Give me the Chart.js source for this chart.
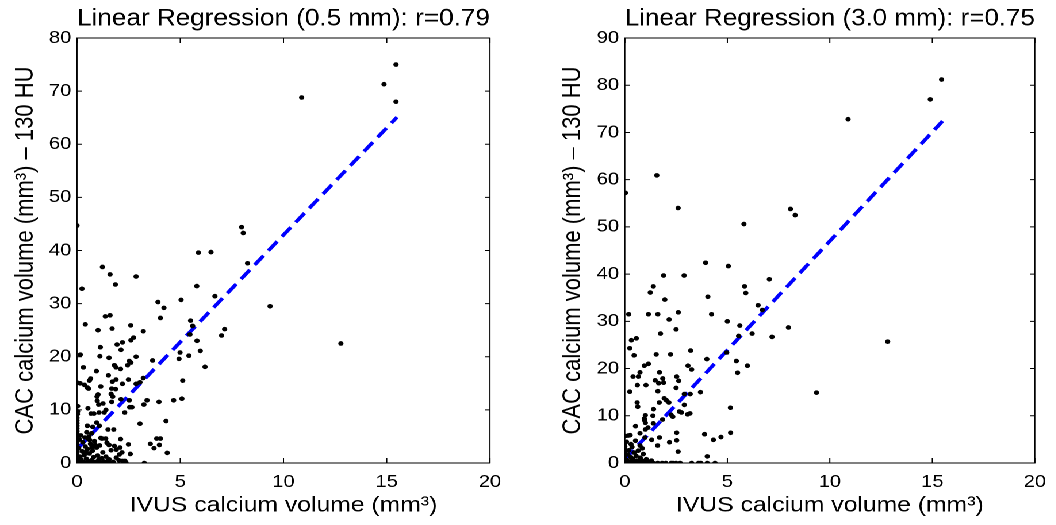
<!DOCTYPE html>
<html>
<head>
<meta charset="utf-8">
<script src="https://cdn.jsdelivr.net/npm/chart.js@4.4.0/dist/chart.umd.min.js"></script>
<style>
  html, body { margin: 0; padding: 0; background: #fff; overflow: hidden; }
  #wrap { position: absolute; left: 0; top: 0; height: 525px; transform-origin: 0 0; }
  .pane { position: absolute; top: 0; height: 525px; }
</style>
</head>
<body>
<div id="wrap">
  <div class="pane" id="paneL"><canvas id="left"></canvas></div>
  <div class="pane" id="paneR"><canvas id="right"></canvas></div>
</div>
<script>
// 0.5 mm reconstruction: IVUS volume (x) vs CAC volume (y)
const ivus05 = [0, 15.45, 14.87, 15.45, 10.88, 7.97, 8.05, 8.26, 5.88, 6.49, 12.78, 9.35, 1.23, 1.6, 2.86, 1.86, 0.24, 5.8, 6.68, 5.04,
  3.92, 4.21, 4.04, 1.37, 1.6, 5.5, 0.4, 2.6, 5.6, 1.02, 1.7, 3.21, 7.15, 7.0, 5.47, 2.74, 2.61, 5.81, 2.2, 1.94,
  1.13, 2.13, 5.97, 0.16, 1.11, 1.55, 2.86, 4.99, 4.94, 5.42, 3.66, 2.53, 2.61, 2.45, 1.81, 1.89, 2.11, 0.31, 6.2, 0.94,
  1.89, 1.52, 0.6, 0.66, 1.71, 3.21, 5.12, 0.02, 0.15, 0.36, 0.5, 0.56, 1.15, 1.68, 1.87, 2.49, 2.2, 2.86, 3.05, 1.02,
  0.97, 1.65, 1.73, 0.98, 1.05, 1.26, 2.13, 1.68, 2.53, 3.39, 3.24, 3.97, 4.68, 5.08, 2.31, 2.55, 2.66, 1.4, 1.32, 0.53,
  0.03, 0.68, 0.82, 1.07, 0.03, 3.05, 4.31, 0.95, 0.5, 0.76, 1.08, 1.5, 1.78, 0.71, 0.47, 0.53, 1.21, 1.39, 2.11, 3.86,
  4.04, 3.55, 3.73, 3.99, 4.37, 2.49, 1.55, 1.81, 2.08, 1.9, 2.18, 2.58, 2.03, 2.32, 2.37, 3.26, 1.52,
  0, 0, 0, 0, 0, 0, 0, 0, 0, 0, 0, 0, 0, 0, 0, 0, 0, 0, 0.02,
  0.1, 0.15, 0.2, 0.25, 0.3, 0.35, 0.4, 0.45, 0.5, 0.55, 0.6, 0.65, 0.7, 0.75, 0.8, 0.85, 0.9, 0.95, 1.0, 1.05,
  1.1, 1.2, 1.25, 1.3, 1.4, 1.45, 1.55, 1.65, 1.75, 1.9, 2.05, 2.2, 0.05, 0.12, 0.2, 0.35, 0.5, 0.65, 0.8, 0.95,
  1.1, 1.25, 1.5, 1.7, 0.08, 0.12, 0.18, 0.28, 0.38, 0.42, 0.58, 0.62, 0.72, 0.88, 1.15];
const cac05 = [44.7, 75.0, 71.3, 68.0, 68.8, 44.4, 43.3, 37.6, 39.6, 39.7, 22.5, 29.5, 36.9, 35.5, 35.1, 33.6, 32.8, 33.3, 31.4, 30.7,
  30.3, 29.2, 27.3, 27.6, 27.8, 26.8, 26.1, 25.9, 25.8, 25.0, 25.3, 24.8, 25.2, 24.0, 24.2, 23.6, 23.1, 23.0, 22.7, 22.3,
  21.8, 21.3, 21.1, 20.4, 20.1, 19.8, 20.0, 20.8, 19.6, 20.2, 19.3, 19.2, 18.9, 18.4, 18.4, 18.0, 17.7, 18.0, 18.1, 17.3,
  15.7, 16.5, 15.5, 15.9, 15.3, 16.0, 15.5, 15.1, 15.0, 14.7, 14.2, 14.0, 14.4, 14.0, 13.9, 15.7, 14.9, 14.9, 15.2, 12.9,
  12.5, 13.0, 12.5, 11.7, 11.0, 11.2, 12.0, 11.5, 11.8, 11.8, 11.0, 11.5, 11.8, 12.1, 9.5, 10.5, 10.5, 10.0, 9.5, 10.3,
  10.7, 9.3, 9.3, 9.5, 9.7, 7.4, 7.9, 7.6, 7.0, 6.8, 7.0, 6.3, 6.3, 5.6, 5.8, 4.6, 4.6, 4.6, 4.5, 4.6,
  4.6, 3.6, 2.8, 3.4, 1.9, 3.5, 3.4, 3.2, 2.9, 2.5, 2.0, 1.7, 0.5, 0.4, 0.1, 0, 0.4,
  0, 0.5, 1, 1.5, 2, 2.5, 3, 3.5, 4, 4.5, 5, 5.5, 6, 6.5, 7, 7.5, 8, 8.5, 9.2,
  0.3, 1.2, 0.6, 2.2, 0.2, 1.5, 3.1, 0.8, 2.6, 0.3, 1.8, 3.6, 0.5, 2.3, 1.1, 4.1, 0.2, 2.9, 1.4, 0.6,
  3.3, 0.9, 2.0, 0.3, 1.2, 3.8, 0.7, 2.4, 0.2, 1.0, 1.6, 0.4, 0.1, 0.05, 0, 0, 0, 0, 0.05, 0,
  0, 0.1, 0, 0, 2.8, 4.4, 5.2, 3.9, 4.8, 2.0, 5.0, 4.3, 3.0, 3.4, 4.7];

// 3.0 mm reconstruction
const ivus30 = [0.03, 15.45, 14.9, 10.89, 1.56, 2.6, 8.08, 8.31, 5.81, 3.94, 5.05, 1.89, 2.89, 7.05, 1.39, 5.84, 1.24, 5.9, 4.05, 1.95,
  6.5, 6.71, 0.19, 1.15, 1.61, 2.61, 4.23, 2.16, 5.0, 2.5, 7.98, 5.61, 1.74, 6.21, 5.55, 7.18, 12.82, 0.56, 0.32, 0.24,
  3.21, 1.53, 2.23, 0.45, 4.97, 4.0, 5.44, 1.15, 0.95, 3.08, 5.98, 3.26, 5.5, 0.74, 1.69, 0.4, 0.66, 2.53, 1.85, 1.48,
  2.63, 1.89, 1.65, 0.61, 1.03, 2.5, 1.61, 0.24, 3.69, 3.19, 2.9, 9.35, 1.92, 2.02, 0.6, 1.68, 2.15, 2.9, 0.63, 5.15,
  1.4, 2.66, 2.76, 3.18, 3.06, 2.26, 2.34, 1.0, 1.37, 0.95, 1.84, 0.97, 1.0, 1.39, 0.52, 1.13, 1.0, 0.74, 2.53, 3.89,
  5.16, 4.69, 0.16, 0.26, 0, 1.69, 0.98, 1.31, 2.18, 2.53, 4.32, 0.52, 1.6, 0.74, 0.85, 2.6, 4.02,
  1.39, 1.82, 2.26, 2.35, 3.26, 3.6, 3.71, 4.02, 4.4,
  0, 0, 0, 0, 0, 0, 0, 0, 0, 0.1, 0.2, 0.3, 0.4, 0.5, 0.6, 0.7, 0.8, 0.9, 1.0, 1.1,
  1.2, 1.6, 2.0, 2.5, 2.7, 0.1, 0.15, 0.2, 0.25, 0.3, 0.35, 0.4, 0.45, 0.5, 0.55, 0.6, 0.65, 0.7, 0.75, 0.8,
  0.9, 0.95, 1.05, 1.15, 1.3, 0.08, 0.3];
const cac30 = [57.2, 81.2, 77.0, 72.8, 60.9, 54.0, 53.8, 52.5, 50.6, 42.4, 41.7, 39.7, 39.7, 38.9, 37.4, 37.4, 36.1, 36.0, 35.2, 34.6,
  33.4, 32.4, 31.5, 31.5, 31.5, 31.9, 31.5, 30.4, 30.0, 28.3, 28.7, 29.1, 27.4, 27.4, 26.9, 26.7, 25.7, 26.4, 26.0, 24.3,
  23.8, 23.0, 23.0, 22.8, 23.4, 22.0, 21.6, 21.0, 20.6, 20.6, 20.6, 19.8, 19.1, 19.2, 19.2, 18.3, 18.3, 18.3, 17.9, 17.5,
  17.4, 17.0, 16.9, 16.5, 16.5, 15.9, 15.2, 15.1, 15.0, 14.6, 14.6, 14.9, 13.7, 13.3, 12.8, 12.8, 12.8, 12.3, 11.9, 11.7,
  11.4, 10.9, 10.7, 10.5, 10.3, 10.2, 9.8, 10.1, 10.0, 9.4, 9.2, 9.0, 8.5, 8.4, 7.8, 7.5, 7.1, 6.3, 6.4, 6.1,
  6.4, 5.5, 5.8, 5.9, 5.7, 5.4, 5.4, 4.9, 4.4, 4.8, 4.9, 4.7, 3.7, 3.7, 3.1, 2.4, 1.4,
  0, 0, 0, 0, 0, 0, 0, 0, 0,
  0, 0.5, 1, 1.5, 2, 2.5, 3, 3.5, 4.2, 0, 0, 0, 0, 0, 0, 0, 0, 0, 0, 0,
  0, 0, 0, 0, 0, 0.6, 1.8, 2.7, 0.3, 1.2, 3.4, 0.8, 2.2, 0.2, 1.5, 0.5, 2.6, 0.3, 1.1, 0.6,
  1.9, 0.4, 0.8, 0.3, 0.5, 4.5, 4.0];

// regression line end points
const fitX = [0, 15.5];
const fit05 = [2.6, 65.1];
const fit30 = [0.8, 72.4];

const xTicks = [0, 5, 10, 15, 20];

const FONT = '"Liberation Sans", Arial, Helvetica, sans-serif';

// the original figure is a little wider than tall, so the whole page is stretched sideways
const S = 1.15;
const W = 1056 / S;
const PANE = W / 2;
document.getElementById('wrap').style.width = W + 'px';
document.getElementById('wrap').style.transform = 'scaleX(' + S + ')';
['paneL', 'paneR'].forEach((id, i) => {
  const el = document.getElementById(id);
  el.style.width = PANE + 'px';
  el.style.left = (i * PANE) + 'px';
});

// MATLAB style box with inward tick marks on all four sides
const boxPlugin = {
  id: 'matlabBox',
  afterDatasetsDraw(chart) {
    const { ctx, chartArea: a, scales } = chart;
    ctx.save();
    ctx.strokeStyle = '#000';
    ctx.lineWidth = 1;
    ctx.strokeRect(a.left, a.top, a.right - a.left, a.bottom - a.top);
    ctx.beginPath();
    scales.x.ticks.forEach(t => {
      const px = scales.x.getPixelForValue(t.value);
      ctx.moveTo(px, a.bottom); ctx.lineTo(px, a.bottom - 5);
      ctx.moveTo(px, a.top); ctx.lineTo(px, a.top + 5);
    });
    scales.y.ticks.forEach(t => {
      const py = scales.y.getPixelForValue(t.value);
      ctx.moveTo(a.left, py); ctx.lineTo(a.left + 4.3, py);
      ctx.moveTo(a.right, py); ctx.lineTo(a.right - 4.3, py);
    });
    ctx.stroke();
    ctx.restore();
  }
};

function makeChart(id, title, xs, ys, fitY, yMax, plotLeft, plotRight, yTitleCenter) {
  const points = xs.map((x, i) => ({ x: x, y: ys[i] }));
  const line = fitX.map((x, i) => ({ x: x, y: fitY[i] }));
  return new Chart(document.getElementById(id), {
    type: 'scatter',
    data: {
      datasets: [
        {
          data: points,
          backgroundColor: '#000',
          borderColor: '#000',
          pointRadius: 2.3,
          pointBorderWidth: 0
        },
        {
          type: 'line',
          data: line,
          borderColor: '#0000ff',
          borderWidth: 3.4,
          borderDash: [12, 6.5],
          pointRadius: 0,
          fill: false
        }
      ]
    },
    options: {
      responsive: true,
      maintainAspectRatio: false,
      animation: false,
      devicePixelRatio: 2,
      layout: { padding: { left: 0, right: PANE - plotRight, top: 0, bottom: 0 } },
      plugins: {
        legend: { display: false },
        tooltip: { enabled: false },
        title: {
          display: true,
          text: title,
          fullSize: false,
          color: '#000',
          font: { family: FONT, size: 24, weight: 'normal' },
          padding: { top: 4.3, bottom: 4.9 }
        }
      },
      scales: {
        x: {
          type: 'linear',
          min: 0,
          max: 20,
          afterBuildTicks: s => { s.ticks = xTicks.map(v => ({ value: v })); },
          afterFit: s => { s.height = 62; },
          grid: { display: false, drawTicks: false },
          border: { display: false },
          ticks: { color: '#000', padding: 8.5, font: { family: FONT, size: 17.5 } },
          title: {
            display: true,
            text: 'IVUS calcium volume (mm³)',
            color: '#000',
            font: { family: FONT, size: 21.5 },
            padding: { top: 0, bottom: 6.4 }
          }
        },
        y: {
          type: 'linear',
          min: 0,
          max: yMax,
          afterFit: s => { s.width = plotLeft; },
          grid: { display: false, drawTicks: false },
          border: { display: false },
          ticks: { color: '#000', padding: 5, stepSize: 10, font: { family: FONT, size: 17.5 } },
          title: {
            display: true,
            text: 'CAC calcium volume (mm³) – 130 HU',
            color: '#000',
            font: { family: FONT, size: 22 },
            padding: { top: yTitleCenter - 13.2, bottom: 0 }
          }
        }
      }
    },
    plugins: [boxPlugin]
  });
}

// plot area edges in page pixels: left 77..490, right 625..1038
makeChart('left', 'Linear Regression (0.5 mm): r=0.79', ivus05, cac05, fit05, 80,
  77 / S, 490 / S, 26 / S);
makeChart('right', 'Linear Regression (3.0 mm): r=0.75', ivus30, cac30, fit30, 90,
  625 / S - PANE, 1038 / S - PANE, 573.3 / S - PANE);
</script>
</body>
</html>
